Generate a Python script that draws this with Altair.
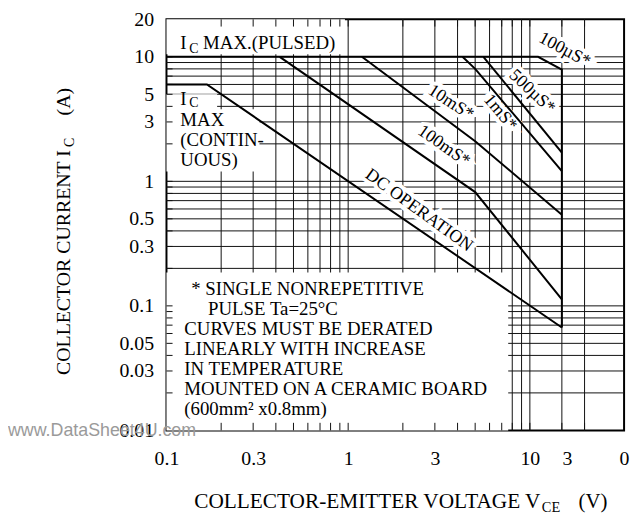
import altair as alt
import pandas as pd

SERIF = "Liberation Serif"
SANS = "Liberation Sans"

# ---------------- data ----------------
x_ticks = [0.1, 0.3, 1, 3, 10, 16, 33]
x_tick_labels = ["0.1", "0.3", "1", "3", "10", "3", "0"]
y_ticks = [0.01, 0.03, 0.05, 0.1, 0.3, 0.5, 1, 3, 5, 10, 20]
y_tick_labels = ["0.01", "0.03", "0.05", "0.1", "0.3", "0.5", "1", "3", "5", "10", "20"]

x_grid = [0.2, 0.3, 0.4, 0.5, 0.6, 0.7, 0.8, 0.9, 1, 2, 3, 4, 5, 6, 7, 8, 9, 10, 15, 20]
y_grid = [0.02, 0.03, 0.04, 0.05, 0.06, 0.07, 0.08, 0.09,
          0.1, 0.2, 0.3, 0.4, 0.5, 0.6, 0.7, 0.8, 0.9,
          1, 2, 3, 4, 5, 6, 7, 8, 9, 10]

# safe operating area curves (VCE in V, IC in A)
dc_v = [0.1, 0.167, 15]
dc_i = [6, 6, 0.067]
ms100_v = [0.42, 5, 15]
ms100_i = [10, 0.82, 0.113]
ms10_v = [1.19, 5, 15]
ms10_i = [10, 2.1, 0.54]
ms1_v = [4.26, 5, 15]
ms1_i = [10, 8.0, 1.21]
us500_v = [5.55, 15]
us500_i = [10, 1.70]
us100_v = [0.1, 11.1, 15, 15]
us100_i = [10, 10, 7.9, 0.067]

curves = {
    "DC": (dc_v, dc_i),
    "100ms": (ms100_v, ms100_i),
    "10ms": (ms10_v, ms10_i),
    "1ms": (ms1_v, ms1_i),
    "500us": (us500_v, us500_i),
    "100us": (us100_v, us100_i),
}

# white label boxes (data coordinates)
box_x1 = [0.1, 0.1, 0.1, 0.1]
box_x2 = [0.96, 0.19, 0.325, 7.6]
box_y1 = [10.5, 3.8, 1.2, 0.01]
box_y2 = [20, 5.0, 3.8, 0.185]

# ---------------- chart ----------------
X0, Y0 = 168, 17
W, H = 462, 415


def label_expr(vals, labs):
    s = "''"
    for v, l in reversed(list(zip(vals, labs))):
        s = f"datum.value == {v} ? '{l}' : ({s})"
    return s


X_ENC = alt.X(
    "x:Q",
    scale=alt.Scale(type="log", domain=[0.1, 33], nice=False),
    axis=alt.Axis(values=x_ticks, labelExpr=label_expr(x_ticks, x_tick_labels),
                  title=None, grid=False, ticks=False, domain=False,
                  labelPadding=18, labelFont=SERIF, labelFontSize=20,
                  labelColor="black", labelFlush=False, labelOverlap=False),
)
Y_ENC = alt.Y(
    "y:Q",
    scale=alt.Scale(type="log", domain=[0.01, 20], nice=False),
    axis=alt.Axis(values=y_ticks, labelExpr=label_expr(y_ticks, y_tick_labels),
                  title=None, grid=False, ticks=False, domain=False,
                  labelPadding=13, labelFont=SERIF, labelFontSize=20,
                  labelColor="black", labelFlush=False, labelOverlap=False),
)

layers = []

vgrid = pd.DataFrame({"x": x_grid})
hgrid = pd.DataFrame({"y": y_grid})
layers.append(alt.Chart(vgrid).mark_rule(color="#111", strokeWidth=1).encode(x=X_ENC))
layers.append(alt.Chart(hgrid).mark_rule(color="#111", strokeWidth=1).encode(y=Y_ENC))

boxes = pd.DataFrame({"x": box_x1, "x2": box_x2, "y": box_y1, "y2": box_y2})
layers.append(alt.Chart(boxes).mark_rect(color="white").encode(
    x=X_ENC, x2="x2", y=Y_ENC, y2="y2"))

# inner tick marks along the frame
bt = pd.DataFrame({"x": x_grid, "y": [0.01] * len(x_grid), "y2": [0.0115] * len(x_grid)})
tt = pd.DataFrame({"x": x_grid, "y": [20] * len(x_grid), "y2": [17.5] * len(x_grid)})
lt = pd.DataFrame({"y": y_grid, "x": [0.1] * len(y_grid), "x2": [0.108] * len(y_grid)})
for d in (bt, tt):
    layers.append(alt.Chart(d).mark_rule(color="#111", strokeWidth=1).encode(
        x=X_ENC, y=Y_ENC, y2="y2"))
layers.append(alt.Chart(lt).mark_rule(color="#111", strokeWidth=1).encode(
    x=X_ENC, x2="x2", y=Y_ENC))


def text(px, py, s, size=19, angle=0, align="left", baseline="alphabetic",
         color="black", font=SERIF, halo=False):
    kw = dict(text=s, fontSize=size, angle=angle, align=align, baseline=baseline, font=font)
    if halo:
        kw.update(color="white", stroke="white", strokeWidth=8)
    else:
        kw.update(color=color)
    return alt.Chart(pd.DataFrame({"t": [s]})).mark_text(**kw).encode(
        x=alt.value(px - X0), y=alt.value(py - Y0))


curve_labels = [
    (570, 48, "100µS*", 28),
    (537, 90, "500µS*", 43),
    (505, 111, "1mS*", 50),
    (455, 101, "10mS*", 33),
    (448, 145, "100mS*", 35),
    (423, 210, "DC OPERATION", 36),
]
for px, py, s, ang in curve_labels:
    layers.append(text(px, py, s, size=18, angle=ang, align="center", baseline="middle", halo=True))

rows = []
for name, (v, i) in curves.items():
    for k, (a, b) in enumerate(zip(v, i)):
        rows.append({"series": name, "order": k, "x": a, "y": b})
curve_df = pd.DataFrame(rows)
layers.append(alt.Chart(curve_df).mark_line(color="black", strokeWidth=2).encode(
    x=X_ENC, y=Y_ENC, detail="series:N", order="order:Q"))

for px, py, s, ang in curve_labels:
    layers.append(text(px, py, s, size=18, angle=ang, align="center", baseline="middle"))

# I_C MAX.(PULSED)
layers += [
    text(182, 47, "I", 19), text(191, 51, "C", 14), text(205, 47, "MAX.(PULSED)", 19),
]
# I_C MAX (CONTINUOUS)
layers += [
    text(182, 103, "I", 19), text(191, 106, "C", 14),
    text(182, 125, "MAX", 19), text(182, 145, "(CONTIN-", 19), text(182, 165, "UOUS)", 19),
]
# notes
notes = [
    (193, 295, "* SINGLE NONREPETITIVE"),
    (210, 316, "PULSE Ta=25°C"),
    (186, 336, "CURVES MUST BE DERATED"),
    (186, 356, "LINEARLY WITH INCREASE"),
    (186, 376, "IN TEMPERATURE"),
    (186, 396, "MOUNTED ON A CERAMIC BOARD"),
    (186, 416, "(600mm² x0.8mm)"),
]
for px, py, s in notes:
    layers.append(text(px, py, s, 19))

# watermark
layers.append(text(8, 438, "www.DataSheet4U.com", 18, color="#9a9a9a", font=SANS))

# axis titles (with subscripts)
layers += [
    text(196, 510, "COLLECTOR-EMITTER VOLTAGE V", 21.5),
    text(547, 514, "CE", 14.5),
    text(584, 510, "(V)", 21),
    text(71, 376, "COLLECTOR CURRENT I", 20, angle=270),
    text(75, 146, "C", 14, angle=270),
    text(71, 114, "(A)", 20, angle=270),
]

chart = alt.layer(*layers).properties(
    width=W, height=H,
    padding={"left": 160, "top": 9, "right": 8, "bottom": 85},
    autosize=alt.AutoSizeParams(type="none"),
).configure_view(stroke="black", strokeWidth=2)

chart.save("out.html", embed_options={"renderer": "svg", "actions": False})
